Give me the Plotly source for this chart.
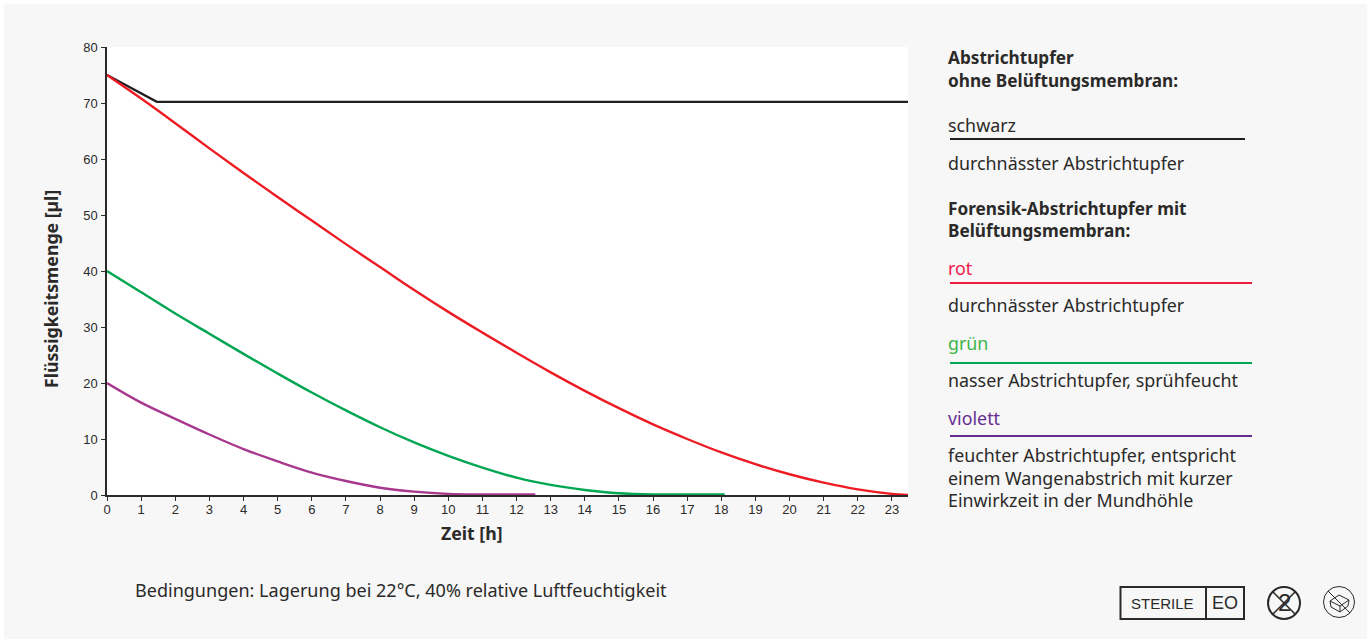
import plotly.graph_objects as go

OX, OY = 4, 4
W, H = 1371 - 2 * OX, 639 - OY
L, R, T, B = 107, 908, 47, 495

hours_black = [0, 1.46, 5, 10, 15, 20, 23.47]
flow_black = [75, 70.2, 70.2, 70.2, 70.2, 70.2, 70.2]
hours_red = [0, 1, 2, 3, 4, 5, 6, 7, 8, 9, 10, 11, 12, 13, 14, 15, 16, 17, 18, 19, 20, 21, 22, 23, 23.47]
flow_red = [75, 70.8, 66.4, 61.9, 57.5, 53.2, 49, 44.8, 40.7, 36.6, 32.7, 29, 25.4, 21.9, 18.6, 15.5, 12.6, 10, 7.6, 5.5, 3.7, 2.2, 1, 0.2, 0]
hours_green = [0, 1, 2, 3, 4, 5, 6, 7, 8, 9, 10, 11, 12, 13, 14, 15, 16, 17, 18.1]
flow_green = [40, 36.2, 32.4, 28.8, 25.2, 21.7, 18.3, 15.1, 12.1, 9.4, 7, 4.9, 3.1, 1.8, 0.9, 0.3, 0.1, 0.1, 0.1]
hours_violet = [0, 1, 2, 3, 4, 5, 6, 7, 8, 9, 10, 11, 12.55]
flow_violet = [20, 16.5, 13.6, 10.8, 8.2, 6, 4, 2.5, 1.3, 0.6, 0.2, 0.1, 0.1]

y_ticks = list(range(0, 81, 10))
x_ticks = list(range(0, 24))

BLACK, RED, GREEN, VIOLET = "#231f20", "#ed1c24", "#00a651", "#a8378e"
INK = "#2b2a29"
SANS = "Noto Sans"
ARIAL = "Liberation Sans"

px = lambda x: (x - L) / (R - L)
py = lambda y: (B - y) / (B - T)

fig = go.Figure()
for name, xs, ys, c in [
    ("schwarz", hours_black, flow_black, BLACK),
    ("rot", hours_red, flow_red, RED),
    ("grün", hours_green, flow_green, GREEN),
    ("violett", hours_violet, flow_violet, VIOLET),
]:
    fig.add_trace(go.Scatter(x=xs, y=ys, mode="lines", name=name, cliponaxis=False,
                             line=dict(color=c, width=2.4, shape="spline" if name != "schwarz" else "linear")))

texts = [
    (948, 58, "<b>Abstrichtupfer</b>", INK, 17.2),
    (948, 80, "<b>ohne Belüftungsmembran:</b>", INK, 17.2),
    (948, 125, "schwarz", INK, 17.85),
    (948, 163, "durchnässter Abstrichtupfer", INK, 17.85),
    (948, 208, "<b>Forensik-Abstrichtupfer mit</b>", INK, 17.2),
    (948, 230, "<b>Belüftungsmembran:</b>", INK, 17.2),
    (948, 268, "rot", "#ed1c4a", 17.85),
    (948, 305, "durchnässter Abstrichtupfer", INK, 17.85),
    (948, 343, "grün", "#3db54a", 17.85),
    (948, 380, "nasser Abstrichtupfer, sprühfeucht", INK, 17.85),
    (948, 418, "violett", "#662d91", 17.85),
    (948, 455, "feuchter Abstrichtupfer, entspricht", INK, 17.85),
    (948, 478, "einem Wangenabstrich mit kurzer", INK, 17.85),
    (948, 500, "Einwirkzeit in der Mundhöhle", INK, 17.85),
    (135, 590, "Bedingungen: Lagerung bei 22°C, 40% relative Luftfeuchtigkeit", INK, 18.05),
]
annotations = [dict(x=px(x), y=py(y), xref="paper", yref="paper", text=t, showarrow=False,
                    xanchor="left", yanchor="middle", xshift=-2,
                    font=dict(family=SANS, size=s, color=c))
               for x, y, t, c, s in texts]
annotations += [
    dict(x=px(1162), y=py(603), xref="paper", yref="paper", text="STERILE", showarrow=False,
         xanchor="center", yanchor="middle", font=dict(family=ARIAL, size=15, color=INK)),
    dict(x=px(1225), y=py(603), xref="paper", yref="paper", text="EO", showarrow=False,
         xanchor="center", yanchor="middle", font=dict(family=ARIAL, size=18, color=INK)),
    dict(x=px(1284), y=py(602), xref="paper", yref="paper", text="2", showarrow=False,
         xanchor="center", yanchor="middle", font=dict(family=ARIAL, size=24, color=INK)),
    dict(x=px(472), y=py(533), xref="paper", yref="paper", text="<b>Zeit [h]</b>", showarrow=False,
         xanchor="center", yanchor="middle", font=dict(family=SANS, size=17.7, color=INK)),
    dict(x=px(51), y=py(289), xref="paper", yref="paper", text="<b>Flüssigkeitsmenge [µl]</b>", showarrow=False,
         textangle=-90, xanchor="center", yanchor="middle", font=dict(family=SANS, size=17.7, color=INK)),
]

def hline(x0, x1, y, c, w=2):
    return dict(type="line", xref="paper", yref="paper", x0=px(x0), x1=px(x1), y0=py(y), y1=py(y),
                line=dict(color=c, width=w))

def seg(x0, y0, x1, y1, w=2, c=INK):
    return dict(type="line", xref="paper", yref="paper", x0=px(x0), x1=px(x1), y0=py(y0), y1=py(y1),
                line=dict(color=c, width=w))

def circ(cx, cy, r, w=2):
    return dict(type="circle", xref="paper", yref="paper", x0=px(cx - r), x1=px(cx + r), y0=py(cy + r), y1=py(cy - r),
                line=dict(color=INK, width=w))

shapes = [
    hline(950, 1245, 139, BLACK),
    hline(950, 1252, 283, "#ed1c3c"),
    hline(950, 1252, 363, "#00a651"),
    hline(950, 1252, 436, "#662d91"),
    dict(type="rect", xref="paper", yref="paper", x0=px(1120.5), x1=px(1244), y0=py(619), y1=py(587),
         line=dict(color=INK, width=2)),
    seg(1206, 587, 1206, 619),
    circ(1284, 603, 16),
    seg(1273, 592, 1295, 614, 1.6),
    seg(1295, 592, 1273, 614, 1.6),
    circ(1339, 602, 15.5, 1),
    seg(1328, 591, 1350, 613, 1),
    seg(1330, 601, 1339, 595, 1),
    seg(1339, 595, 1349, 600, 1),
    seg(1349, 600, 1340, 606, 1),
    seg(1340, 606, 1330, 601, 1),
    seg(1330, 601, 1331, 607, 1),
    seg(1331, 607, 1340, 612, 1),
    seg(1340, 612, 1348, 606, 1),
    seg(1348, 606, 1349, 600, 1),
    seg(1340, 606, 1340, 612, 1),
]

fig.update_layout(
    width=W, height=H, autosize=False,
    margin=dict(l=L - OX, r=OX + W - R, t=T - OY, b=OY + H - B),
    paper_bgcolor="#f7f7f7", plot_bgcolor="#ffffff",
    showlegend=False, annotations=annotations, shapes=shapes,
    font=dict(family=ARIAL, size=13, color=INK),
    xaxis=dict(range=[0, 23.47], tickvals=x_ticks, ticks="outside", ticklen=4, tickwidth=1, tickcolor=INK,
               showline=True, linecolor=INK, linewidth=1.5, showgrid=False, zeroline=False,
               ticklabelstandoff=-2, tickfont=dict(family=ARIAL, size=13, color=INK)),
    yaxis=dict(range=[0, 80], tickvals=y_ticks, ticks="outside", ticklen=4, tickwidth=1, tickcolor=INK,
               showline=True, linecolor=INK, linewidth=1.5, showgrid=False, zeroline=False,
               ticklabelstandoff=1, tickfont=dict(family=ARIAL, size=13, color=INK)),
)
fig.write_html("out.html", post_script="document.body.style.margin='4px 4px 0 4px';document.body.style.overflow='hidden';")
